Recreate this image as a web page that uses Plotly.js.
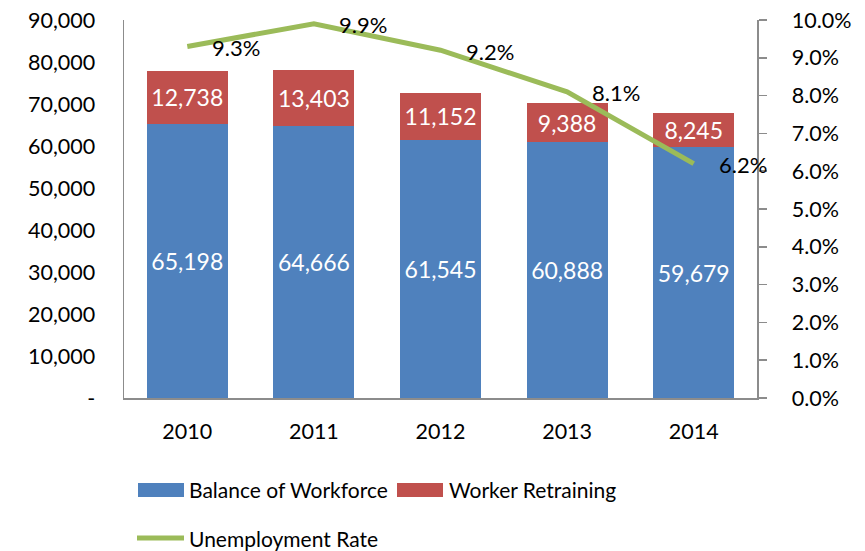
<!DOCTYPE html>
<html>
<head>
<meta charset="utf-8">
<script src="https://cdn.plot.ly/plotly-3.0.1.min.js"></script>
<style>html,body{margin:0;padding:0;background:#fff;overflow:hidden;}#chart{width:865px;height:551px;overflow:hidden;}</style>
</head>
<body>
<div id="chart"></div>
<script>
const years = ["2010", "2011", "2012", "2013", "2014"];
const balanceOfWorkforce = [65198, 64666, 61545, 60888, 59679];
const workerRetraining = [12738, 13403, 11152, 9388, 8245];
const unemploymentRate = [9.3, 9.9, 9.2, 8.1, 6.2];
const seriesNames = ["Balance of Workforce", "Worker Retraining", "Unemployment Rate"];
const leftTickVals = [0, 10000, 20000, 30000, 40000, 50000, 60000, 70000, 80000, 90000];
const leftTickText = ["-", "10,000", "20,000", "30,000", "40,000", "50,000", "60,000", "70,000", "80,000", "90,000"];
const rightTickVals = [0, 1, 2, 3, 4, 5, 6, 7, 8, 9, 10];
const rightTickText = ["0.0%", "1.0%", "2.0%", "3.0%", "4.0%", "5.0%", "6.0%", "7.0%", "8.0%", "9.0%", "10.0%"];

const COLORS = ["#4F81BD", "#C0504D", "#9BBB59"];
const FONT = "Lato, 'Open Sans', sans-serif";
const fmt = v => v.toLocaleString("en-US");

// plot-area geometry in pixels (for legend placement helpers)
const PL = 124, PR = 757, PT = 20, PB = 398;
const px = x => (x - PL) / (PR - PL);
const py = y => (PB - y) / (PB - PT);

const traces = [
  {
    type: "bar", name: seriesNames[0], x: years, y: balanceOfWorkforce,
    marker: {color: COLORS[0]},
    text: balanceOfWorkforce.map(fmt), textposition: "inside", insidetextanchor: "middle",
    textfont: {color: "#ffffff", size: 23, family: FONT}, hoverinfo: "skip"
  },
  {
    type: "bar", name: seriesNames[1], x: years, y: workerRetraining,
    marker: {color: COLORS[1]},
    text: workerRetraining.map(fmt), textposition: "inside", insidetextanchor: "middle",
    textfont: {color: "#ffffff", size: 23, family: FONT}, hoverinfo: "skip"
  },
  {
    type: "scatter", mode: "lines", name: seriesNames[2], x: years, y: unemploymentRate,
    yaxis: "y2", line: {color: COLORS[2], width: 5}, hoverinfo: "skip"
  }
];

const annotations = years.map((yr, i) => ({
  x: i, y: unemploymentRate[i], xref: "x", yref: "y2",
  text: unemploymentRate[i].toFixed(1) + "%", showarrow: false,
  xanchor: "left", yanchor: "middle", xshift: 23, yshift: -1,
  font: {size: 22, color: "#000", family: FONT}
}));

// custom legend (entries follow seriesNames / COLORS)
const legendEntries = [
  {kind: "rect", x0: 138, x1: 184, tx: 187, y: 490},
  {kind: "rect", x0: 397, x1: 443, tx: 447, y: 490},
  {kind: "line", x0: 137, x1: 184, tx: 187, y: 538}
];
const shapes = [];
legendEntries.forEach((e, i) => {
  if (e.kind === "rect") {
    shapes.push({type: "rect", xref: "paper", yref: "paper",
      x0: px(e.x0), x1: px(e.x1), y0: py(e.y + 7), y1: py(e.y - 7),
      fillcolor: COLORS[i], line: {width: 0}});
  } else {
    shapes.push({type: "line", xref: "paper", yref: "paper",
      x0: px(e.x0), x1: px(e.x1), y0: py(e.y), y1: py(e.y),
      line: {color: COLORS[i], width: 5}});
  }
  annotations.push({xref: "paper", yref: "paper", x: px(e.tx), y: py(e.y),
    xanchor: "left", yanchor: "middle", showarrow: false, text: seriesNames[i],
    font: {size: 21, color: "#000", family: FONT}});
});

const layout = {
  width: 865, height: 551,
  margin: {l: PL, r: 865 - PR, t: PT, b: 551 - PB, pad: 0, autoexpand: false},
  paper_bgcolor: "#fff", plot_bgcolor: "#fff",
  barmode: "stack", bargap: 0.36,
  font: {family: FONT, size: 21, color: "#000"},
  showlegend: false,
  xaxis: {
    type: "category", range: [-0.5, years.length - 0.5], autorange: false,
    showgrid: false, showline: true, linecolor: "#8c8c8c", linewidth: 1.5,
    ticks: "", tickfont: {size: 21.5}, ticklabelstandoff: 14, automargin: false
  },
  yaxis: {
    range: [0, 90000], tickvals: leftTickVals, ticktext: leftTickText,
    showgrid: false, zeroline: false, showline: true, linecolor: "#8c8c8c", linewidth: 1.5,
    ticks: "", tickfont: {size: 21.5}, ticklabelstandoff: 23, automargin: false
  },
  yaxis2: {
    overlaying: "y", side: "right", range: [0, 10],
    tickvals: rightTickVals, ticktext: rightTickText,
    showgrid: false, zeroline: false, showline: true, linecolor: "#8c8c8c", linewidth: 1.5,
    ticks: "outside", ticklen: 8, tickcolor: "#8c8c8c", tickwidth: 1.5,
    tickfont: {size: 21.5}, ticklabelstandoff: 21, automargin: false
  },
  shapes: shapes,
  annotations: annotations
};

Plotly.newPlot("chart", traces, layout, {displayModeBar: false, staticPlot: true});
</script>
</body>
</html>
